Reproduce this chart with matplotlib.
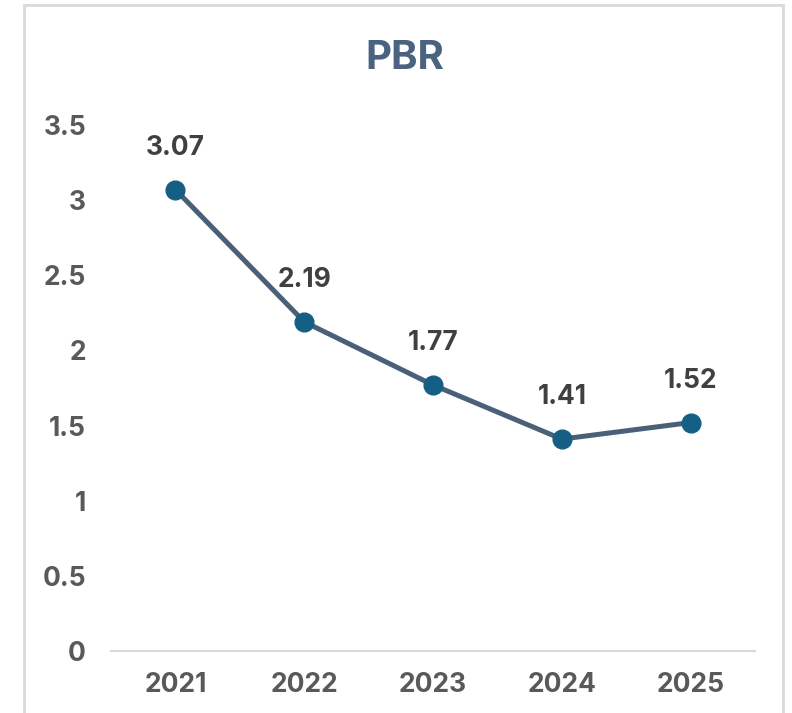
import matplotlib.pyplot as plt
from matplotlib.patches import Rectangle

years = ["2021", "2022", "2023", "2024", "2025"]
pbr = [3.07, 2.19, 1.77, 1.41, 1.52]
yticks = [0, 0.5, 1, 1.5, 2, 2.5, 3, 3.5]
ytick_labels = ["0", "0.5", "1", "1.5", "2", "2.5", "3", "3.5"]

plt.rcParams['font.family'] = ['Inter', 'DejaVu Sans']

fig = plt.figure(figsize=(7.92, 7.13), dpi=100)
ax = fig.add_axes([0.1402, 0.0870, 0.8131, 0.7377])

# outer chart frame
fig.patches.append(Rectangle((0.0303, -0.05), 0.9583, 1.043, transform=fig.transFigure,
                             fill=False, edgecolor="#d9d9d9", linewidth=2))

x = range(len(years))
ax.plot(x, pbr, color="#4a6079", linewidth=3.6, marker="o", markersize=13.5,
        markerfacecolor="#165f84", markeredgecolor="#165f84", zorder=3)

for xi, v in zip(x, pbr):
    ax.annotate("{:.2f}".format(v), (xi, v), xytext=(0, 30), textcoords="offset points",
                ha="center", va="center", fontsize=19, fontweight="bold", color="#404040")

ax.set_xlim(-0.5, len(years) - 0.5)
ax.set_ylim(0, 3.5)
ax.set_xticks(list(x))
ax.set_xticklabels(years)
ax.set_yticks(yticks)
ax.set_yticklabels(ytick_labels)
ax.tick_params(axis="both", length=0, labelsize=19, labelcolor="#595959")
ax.tick_params(axis="y", pad=18)
ax.tick_params(axis="x", pad=15)
for lbl in ax.get_xticklabels() + ax.get_yticklabels():
    lbl.set_fontweight("bold")

for s in ["top", "right", "left"]:
    ax.spines[s].set_visible(False)
ax.spines["bottom"].set_color("#d9d9d9")
ax.spines["bottom"].set_linewidth(1.5)

fig.text(0.511, 0.918, "PBR", ha="center", va="center", fontsize=29,
         fontweight="bold", color="#4a6380")

fig.savefig("out.png", dpi=100)
